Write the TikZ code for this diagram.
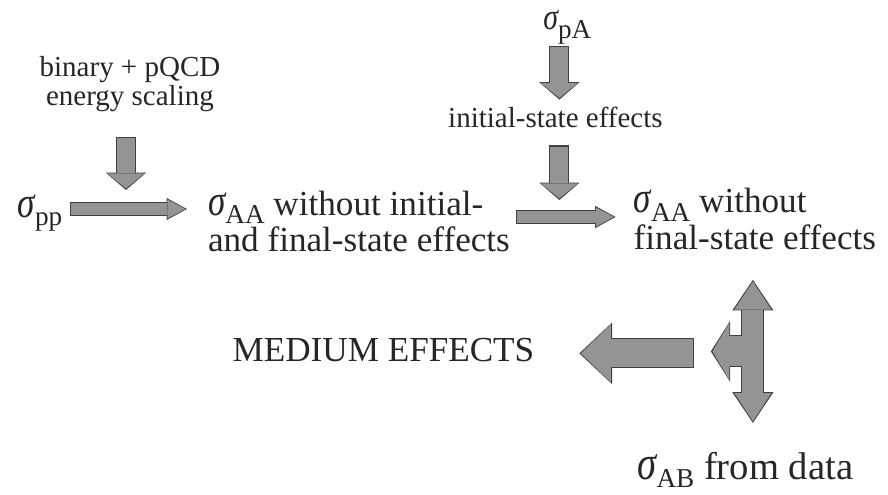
\documentclass[tikz,border=0pt]{standalone}
\usepackage{fontspec}
\setmainfont{Liberation Serif}
\usepackage{graphicx}
\usetikzlibrary{arrows.meta, calc}

\newcommand{\sg}[1]{\scalebox{1}[1.25]{\itshape σ}\raisebox{-5pt}{\fontsize{15.5}{15.5}\selectfont #1}}

\tikzset{
  bigtext/.style={font={\fontsize{20}{21}\selectfont\lineskiplimit=-20pt\relax}, text=black!85, inner sep=1pt},
  smalltext/.style={font=\fontsize{16.5}{16}\selectfont, text=black!85, inner sep=1pt, align=center},
  thinarrow/.style={preaction={draw=black!75, line width=7.5pt, shorten <=0pt, shorten >=0pt, -{Triangle[length=11.6pt, width=12.6pt, line width=0pt]}},
    draw=black!42, line width=6.3pt, shorten <=0.6pt, shorten >=0.9pt, -{Triangle[length=10.2pt, width=10.8pt, line width=0pt]}},
  downarrow/.style={preaction={draw=black!75, line width=11.4pt, shorten <=0pt, shorten >=0pt, -{Triangle[length=9.9pt, width=23pt, line width=0pt]}},
    draw=black!42, line width=10.2pt, shorten <=0.6pt, shorten >=0.9pt, -{Triangle[length=8.5pt, width=21pt, line width=0pt]}},
  bigarrow/.style={preaction={draw=black!75, line width=17.2pt, shorten <=0pt, shorten >=0pt, -{Triangle[length=18.6pt, width=35pt, line width=0pt]}},
    draw=black!42, line width=16pt, shorten <=0.6pt, shorten >=0.9pt, -{Triangle[length=17pt, width=33pt, line width=0pt]}},
  teeedge/.style={draw=black!75},
  teebody/.style={draw=black!42}
}

\begin{document}
\begin{tikzpicture}[x=0.02cm, y=-0.02cm, node distance=1cm]
\useasboundingbox (0,0) rectangle (888,494);
% NODES
\node (pp) [bigtext] at (40,213) {\sg{pp}};
\node (scaling) [smalltext, above of=pp, xshift=1.8cm, yshift=1.58cm] {binary + pQCD\\energy scaling};
\node (aa1) [bigtext, align=left, right of=pp, xshift=5.38cm, yshift=-0.17cm] {\sg{AA} without initial-\\and final-state effects};
\node (aa2) [bigtext, align=left, right of=aa1, xshift=6.92cm, yshift=0.05cm] {\sg{AA} without\\final-state effects};
\node (init) [smalltext, above of=aa1, xshift=3.93cm, yshift=1.09cm] {initial-state effects};
\node (pA) [bigtext, font={\fontsize{17}{17}\selectfont}, above of=init, xshift=0.24cm, yshift=0.8cm] {\sg{pA}};
\node (medium) [bigtext, below of=aa1, xshift=0.49cm, yshift=-1.57cm] {MEDIUM EFFECTS};
\node (ab) [bigtext, font={\fontsize{22}{22}\selectfont}, below of=aa2, xshift=-0.19cm, yshift=-4.02cm] {\sg{AB} from data};

% ARROWS
\draw [thinarrow] ($(pp.east)+(6,-4)$) -- coordinate[pos=0.5] (a1mid) ($(pp.east -| aa1.west)+(-19,-4)$);
\draw [thinarrow] ($(aa1.east)+(4,-4.5)$) -- coordinate[pos=0.5] (a2mid) ($(aa1.east -| aa2.west)+(-16,-4.5)$);
\draw [downarrow] ($(scaling.south)+(-4,24)$) -- ($(scaling.south |- a1mid)+(-4,-19)$);
\draw [downarrow] ($(init.north |- pA.south)+(4,0)$) -- ($(init.north)+(4,-5)$);
\draw [downarrow] ($(init.south)+(4,16)$) -- ($(init.south |- a2mid)+(4,-17)$);

% T-shaped arrow between the two cross sections
\coordinate (teetop) at ($(aa2.south)+(-2,28)$);
\coordinate (teebot) at ($(aa2.south |- ab.north)+(-2,-27)$);
\coordinate (tee) at ($(teetop)!0.5!(teebot)$);
\draw [teeedge, line width=13.2pt, {Triangle[length=17.4pt, width=23.4pt, line width=0pt]}-{Triangle[length=17.4pt, width=23.4pt, line width=0pt]}] (teetop) -- (teebot);
\draw [teeedge, line width=18.2pt, -{Triangle[length=11pt, width=34.8pt, line width=0pt]}] (tee) -- ($(tee)+(-42,0)$);
\draw [teebody, line width=12pt, shorten <=0.9pt, shorten >=0.9pt, {Triangle[length=16pt, width=21pt, line width=0pt]}-{Triangle[length=16pt, width=21pt, line width=0pt]}] (teetop) -- (teebot);
\draw [teebody, line width=17pt, shorten >=0.9pt, -{Triangle[length=9.6pt, width=32.4pt, line width=0pt]}] (tee) -- ($(tee)+(-42,0)$);

\draw [bigarrow] ($(tee)+(-59,2)$) -- ($(medium.east |- tee)+(43,2)$);
\end{tikzpicture}
\end{document}
